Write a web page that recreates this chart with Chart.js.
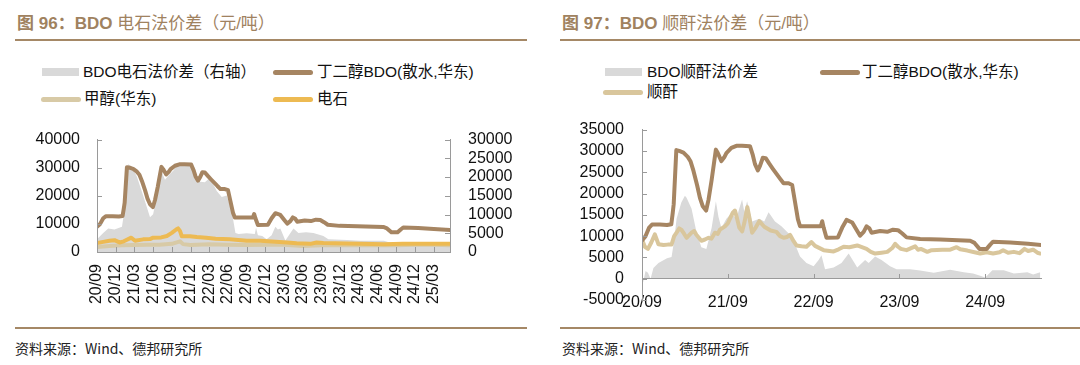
<!DOCTYPE html>
<html>
<head>
<meta charset="utf-8">
<script src="https://cdn.jsdelivr.net/npm/chart.js@4.4.1/dist/chart.umd.min.js"></script>
<style>
  body { margin: 0; background: #fff; }
  #page { position: relative; width: 1080px; height: 365px; overflow: hidden; font-family: "Liberation Sans", "Noto Sans CJK SC", sans-serif; }
  .title { position: absolute; top: 12px; font-size: 17px; line-height: 24px; color: #A0825F; white-space: nowrap; }
  .title b { font-weight: bold; }
  .rule { position: absolute; height: 2px; background: #A58866; }
  .src { position: absolute; top: 338px; font-size: 14px; line-height: 20px; color: #222; font-family: "Noto Sans CJK SC", sans-serif; }
  .lg { position: absolute; font-size: 15.5px; line-height: 20px; color: #111; white-space: nowrap; }
  .sw { position: absolute; }
  canvas { position: absolute; }
</style>
</head>
<body>
<div id="page">
  <div class="title" style="left:17px"><b>图 96：BDO</b> 电石法价差（元/吨）</div>
  <div class="title" style="left:562px"><b>图 97：BDO</b> 顺酐法价差（元/吨）</div>
  <div class="rule" style="left:15px; width:512px; top:39px"></div>
  <div class="rule" style="left:560px; width:520px; top:39px"></div>
  <div class="rule" style="left:15px; width:512px; top:327px"></div>
  <div class="rule" style="left:560px; width:520px; top:327px"></div>
  <div class="src" style="left:15px">资料来源：Wind、德邦研究所</div>
  <div class="src" style="left:562px">资料来源：Wind、德邦研究所</div>
  <div id="legend"></div>
  <canvas id="left" width="540" height="200" style="left:0; top:120px"></canvas>
  <canvas id="right" width="540" height="210" style="left:540px; top:110px"></canvas>
</div>
<script>
// 丁二醇BDO(散水,华东), 元/吨
const bdoDates = ['2020-09-01','2020-09-16','2020-10-01','2020-10-13','2020-11-16','2020-12-16','2021-01-04','2021-01-10','2021-01-14','2021-01-25',
  '2021-02-07','2021-02-25','2021-03-13','2021-03-25','2021-04-07','2021-04-22','2021-05-04','2021-05-16','2021-05-30','2021-06-10',
  '2021-06-23','2021-07-04','2021-07-11','2021-07-19','2021-08-04','2021-08-16','2021-08-25','2021-09-16','2021-10-07','2021-11-01',
  '2021-12-04','2021-12-16','2021-12-25','2022-01-07','2022-01-16','2022-01-28','2022-02-10','2022-02-25','2022-03-10','2022-04-10',
  '2022-04-25','2022-05-16','2022-06-01','2022-06-13','2022-06-25','2022-07-04','2022-10-01','2022-10-07','2022-10-13','2022-10-25',
  '2022-12-13','2023-01-01','2023-01-19','2023-02-13','2023-03-01','2023-03-16','2023-04-01','2023-04-13','2023-04-25','2023-05-04',
  '2023-06-10','2023-07-10','2023-08-04','2023-08-25','2023-09-13','2023-10-01','2023-11-28','2024-02-22','2024-06-28','2024-07-16',
  '2024-08-07','2024-09-07','2024-09-22','2024-10-04','2024-12-16','2025-03-01','2025-05-20'];
const bdoPrice = [9000,10000,12000,12700,12700,12600,12800,15500,17500,30200,
  30000,29600,28600,27500,25300,22000,19000,17000,16000,18500,
  23100,27500,30300,29500,27600,28500,29500,30700,31200,31200,
  31100,29000,26900,25400,26500,28400,28300,27000,25800,23500,
  22400,22400,22000,18000,14000,12300,12300,13500,12000,9600,
  9700,12000,13800,13200,11500,10100,11000,12300,11800,10800,
  11200,11000,11500,11400,10600,9700,9300,9200,8900,8400,
  7000,7000,8000,8700,8500,8200,7800];

// 甲醇(华东)
const methanolDates = ['2020-09-01','2020-11-01','2021-01-01','2021-03-01','2021-05-01','2021-07-01','2021-09-01','2021-10-10','2021-10-25','2021-12-01',
  '2022-03-01','2022-06-01','2022-09-01','2022-12-01','2023-03-01','2023-06-01','2023-09-01','2023-12-01','2024-03-01','2024-06-01',
  '2024-09-01','2024-12-01','2025-03-01','2025-05-20'];
const methanolPrice = [1800,2100,2400,2500,2600,2600,2900,3800,2800,2500,
  2800,2600,2500,2600,2600,2100,2400,2400,2400,2500,
  2400,2600,2600,2400];

// 电石
const carbideDates = ['2020-09-01','2020-10-01','2020-11-01','2020-11-25','2020-12-19','2021-01-10','2021-02-16','2021-03-04','2021-04-13','2021-05-16',
  '2021-06-01','2021-07-10','2021-08-07','2021-09-01','2021-09-22','2021-10-01','2021-10-10','2021-10-19','2021-11-28','2022-01-01',
  '2022-02-16','2022-04-01','2022-06-10','2022-09-01','2022-11-07','2023-03-16','2023-05-01','2023-07-07','2023-08-07','2023-09-10',
  '2024-01-01','2024-03-07','2024-07-01','2024-10-01','2025-01-01','2025-05-20'];
const carbidePrice = [3200,3600,4000,4200,3400,3800,5100,4000,4500,4600,
  5100,5200,5700,6800,8000,8400,7500,5600,5600,5300,
  5100,4700,4500,4000,4000,3400,3100,2900,3400,3200,
  3000,2900,2800,2900,2900,2900];

// BDO电石法价差（右轴）
const carbideSpreadDates = ['2020-09-01','2020-10-01','2020-10-25','2020-11-25','2021-01-01','2021-01-10','2021-01-16','2021-01-25','2021-02-01','2021-02-19',
  '2021-03-13','2021-04-13','2021-05-16','2021-06-01','2021-06-19','2021-07-13','2021-07-28','2021-08-16','2021-09-10','2021-09-28',
  '2021-10-16','2021-11-28','2021-12-22','2022-01-10','2022-02-10','2022-03-04','2022-04-07','2022-05-01','2022-05-25','2022-06-19',
  '2022-07-07','2022-07-22','2022-09-01','2022-10-10','2022-10-16','2022-10-25','2022-11-16','2022-12-07','2023-01-01','2023-01-19',
  '2023-02-01','2023-02-13','2023-03-07','2023-04-16','2023-05-10','2023-06-16','2023-07-22','2023-09-10','2023-10-04','2024-01-04',
  '2024-03-07','2024-07-01','2024-08-19','2024-10-07','2024-12-10','2025-01-28','2025-05-20'];
const carbideSpread = [3400,5100,6300,6000,6750,10000,12600,20000,23400,22800,
  20100,15100,9250,10100,15100,21300,19300,20500,21800,23400,
  23000,23400,22400,18800,18600,19800,16300,14700,15100,10900,
  5100,4800,5000,4800,6500,4500,4300,3400,4500,6750,
  6000,6300,3100,6300,5100,5300,5100,4300,3400,3200,
  3000,3000,2200,2200,2400,2200,2200];

// 顺酐
const maDates = ['2020-09-01','2020-09-13','2020-09-26','2020-10-10','2020-10-25','2020-11-10','2020-12-01','2020-12-19','2021-01-05','2021-01-16',
  '2021-01-26','2021-02-07','2021-02-16','2021-02-28','2021-03-08','2021-03-29','2021-04-10','2021-04-19','2021-05-10','2021-05-25',
  '2021-06-10','2021-06-22','2021-07-07','2021-07-19','2021-07-28','2021-08-19','2021-09-01','2021-09-10','2021-09-22','2021-10-01',
  '2021-10-10','2021-10-19','2021-11-01','2021-11-10','2021-11-23','2021-12-01','2021-12-07','2021-12-13','2021-12-28','2022-01-13',
  '2022-02-04','2022-03-01','2022-03-25','2022-04-10','2022-04-25','2022-05-10','2022-05-22','2022-06-07','2022-06-19','2022-07-10',
  '2022-08-01','2022-08-22','2022-09-07','2022-10-13','2022-11-25','2022-12-16','2023-01-07','2023-02-01','2023-03-04','2023-04-13',
  '2023-05-01','2023-05-19','2023-06-16','2023-07-10','2023-08-01','2023-08-13','2023-08-25','2023-09-07','2023-10-01','2023-11-07',
  '2023-11-19','2023-12-01','2023-12-28','2024-01-16','2024-03-01','2024-04-04','2024-05-01','2024-05-16','2024-06-16','2024-07-16',
  '2024-08-10','2024-09-07','2024-10-04','2024-11-01','2024-11-16','2024-12-07','2025-01-01','2025-01-25','2025-02-16','2025-03-01',
  '2025-03-22','2025-04-10','2025-04-22'];
const maPrice = [9200,7500,7000,8500,10400,8100,7900,8000,8000,10000,
  10800,11800,11500,10500,9600,10800,11200,10300,8900,9200,
  9600,9400,10800,10500,11500,12300,13000,14100,15500,16000,
  14100,12000,11100,13000,16800,14500,12600,10800,12000,13500,
  12200,11300,11000,10000,9600,9800,10300,8800,7800,7600,
  7500,8600,7700,6700,6400,6900,7500,7400,7800,7000,
  6300,5900,6100,6300,7200,8200,7500,7000,6700,7600,
  6800,7000,6300,6700,6800,6800,7400,6900,6600,6200,
  5900,6200,5900,6200,6700,6100,6300,6000,7000,6500,
  6800,6100,5900];

// BDO顺酐法价差
const maSpreadDates = ['2020-09-01','2020-09-07','2020-09-16','2020-09-26','2020-10-07','2020-10-19','2020-11-10','2020-12-16','2021-01-05','2021-01-16',
  '2021-01-26','2021-02-16','2021-03-01','2021-03-08','2021-03-29','2021-04-19','2021-05-10','2021-06-01','2021-06-23','2021-07-11',
  '2021-07-22','2021-08-04','2021-08-25','2021-09-16','2021-10-07','2021-10-19','2021-11-01','2021-11-10','2021-11-22','2021-12-13',
  '2022-01-13','2022-02-04','2022-02-22','2022-03-19','2022-04-16','2022-05-22','2022-06-13','2022-07-04','2022-08-01','2022-09-01',
  '2022-09-22','2022-10-04','2022-10-19','2022-11-25','2022-12-28','2023-01-28','2023-03-04','2023-04-07','2023-04-22','2023-05-19',
  '2023-06-16','2023-07-22','2023-08-19','2023-10-16','2023-11-28','2024-01-25','2024-04-04','2024-06-01','2024-07-10','2024-08-10',
  '2024-09-01','2024-10-01','2024-11-19','2025-01-01','2025-02-28','2025-03-22','2025-04-22'];
const maSpread = [-2000,-500,1800,1400,0,2500,3700,4800,5100,9000,
  14100,17900,19500,19000,16400,11100,7400,7000,11900,18200,
  14500,11900,14100,15300,14100,16500,18600,15700,18200,13400,
  14100,13400,15600,13400,12300,10300,8100,5200,3700,2900,
  4400,5500,2200,2600,3700,5900,2600,4400,3700,5200,
  4400,2900,2200,2200,1900,1400,2100,1500,1200,700,
  300,2000,2000,1200,1500,1000,1500];

const xTicksLeft = ['20/09','20/12','21/03','21/06','21/09','21/12','22/03','22/06','22/09','22/12',
  '23/03','23/06','23/09','23/12','24/03','24/06','24/09','24/12','25/03'];
const xTicksRight = ['20/09','21/09','22/09','23/09','24/09'];

const C = { gray: '#D9D9D9', bdo: '#A68562', methanol: '#D8CAA6', carbide: '#EDBA52', ma: '#D9C69C', axis: '#9A9A9A' };

function toMonth(d) {
  const p = d.split('-').map(Number);
  return (p[0] - 2020) * 12 + (p[1] - 9) + (p[2] - 1) / 30;
}
function pts(dates, vals) { return dates.map((d, i) => ({ x: toMonth(d), y: vals[i] })); }

Chart.defaults.font.family = '"Liberation Sans", Arial, sans-serif';
Chart.defaults.font.size = 16;
Chart.defaults.color = '#111';

// tick marks drawn inward, as in the source chart
const innerTicks = {
  id: 'innerTicks',
  afterDraw(chart) {
    const ctx = chart.ctx, a = chart.chartArea;
    ctx.save();
    ctx.strokeStyle = C.axis;
    ctx.lineWidth = 1;
    Object.values(chart.scales).forEach(s => {
      const pos = s.options.position;
      s.ticks.forEach(t => {
        const p = Math.round(s.getPixelForValue(t.value)) + 0.5;
        ctx.beginPath();
        if (s.isHorizontal()) {
          const y0 = typeof pos === 'object' ? Math.round(chart.scales.y.getPixelForValue(pos.y)) : a.bottom;
          ctx.moveTo(p, y0); ctx.lineTo(p, y0 - 5);
        } else if (pos === 'left') {
          ctx.moveTo(a.left, p); ctx.lineTo(a.left + 5, p);
        } else {
          ctx.moveTo(a.right, p); ctx.lineTo(a.right - 5, p);
        }
        ctx.stroke();
      });
    });
    ctx.restore();
  }
};

function line(label, data, color, order, yAxisID) {
  return { type: 'line', label, data, borderColor: color, backgroundColor: color, borderWidth: 4,
    pointRadius: 0, tension: 0, fill: false, order, yAxisID: yAxisID || 'y', borderJoinStyle: 'round', borderCapStyle: 'round' };
}
function area(label, data, order, yAxisID) {
  return { type: 'line', label, data, borderWidth: 0, borderColor: C.gray, backgroundColor: C.gray,
    pointRadius: 0, tension: 0, fill: 'origin', order, yAxisID: yAxisID || 'y' };
}
const border = { display: true, color: C.axis, width: 1, z: 1 };
const plain = v => String(v);

const leftSets = [
  area('BDO电石法价差（右轴）', pts(carbideSpreadDates, carbideSpread), 3, 'y1'),
  line('丁二醇BDO(散水,华东)', pts(bdoDates, bdoPrice), C.bdo, 0),
  line('甲醇(华东)', pts(methanolDates, methanolPrice), C.methanol, 2),
  line('电石', pts(carbideDates, carbidePrice), C.carbide, 1)
];
const rightSets = [
  area('BDO顺酐法价差', pts(maSpreadDates, maSpread), 3),
  line('丁二醇BDO(散水,华东)', pts(bdoDates, bdoPrice), C.bdo, 0),
  line('顺酐', pts(maDates, maPrice), C.ma, 1)
];

new Chart(document.getElementById('left'), {
  type: 'line',
  data: { datasets: leftSets },
  plugins: [innerTicks],
  options: {
    responsive: false, animation: false, devicePixelRatio: 1,
    layout: { autoPadding: false, padding: { top: 12, left: 0, right: 0, bottom: 0 } },
    plugins: { legend: { display: false }, tooltip: { enabled: false } },
    scales: {
      x: { type: 'linear', min: 0, max: 56.6, grid: { display: false }, border,
        afterFit: s => { s.height = 68; },
        ticks: { stepSize: 3, includeBounds: false, autoSkip: false, maxRotation: 90, minRotation: 90, padding: 4,
          callback: (v, i) => xTicksLeft[i] } },
      y: { position: 'left', min: 0, max: 40000, grid: { display: false }, border,
        afterFit: s => { s.width = 97; },
        ticks: { stepSize: 10000, autoSkip: false, padding: 9, callback: plain } },
      y1: { position: 'right', min: 0, max: 30000, grid: { display: false }, border,
        afterFit: s => { s.width = 90; },
        ticks: { stepSize: 5000, autoSkip: false, padding: 10, callback: plain } }
    }
  }
});

new Chart(document.getElementById('right'), {
  type: 'line',
  data: { datasets: rightSets },
  plugins: [innerTicks],
  options: {
    responsive: false, animation: false, devicePixelRatio: 1,
    layout: { autoPadding: false, padding: { top: 12, left: 0, right: 39, bottom: 20 } },
    plugins: { legend: { display: false }, tooltip: { enabled: false } },
    scales: {
      x: { type: 'linear', position: { y: 0 }, min: 0, max: 55.8, grid: { display: false }, border,
        ticks: { stepSize: 12, includeBounds: false, autoSkip: false, maxRotation: 0, padding: 6,
          callback: (v, i) => xTicksRight[i] } },
      y: { position: 'left', min: -5000, max: 35000, grid: { display: false }, border,
        afterFit: s => { s.width = 102; },
        ticks: { stepSize: 5000, autoSkip: false, padding: 10, callback: plain } }
    }
  }
});

// HTML legends, built from the datasets
const legendSpots = [
  [leftSets[0], 42, 72, 83], [leftSets[1], 273, 72, 317],
  [leftSets[2], 41, 99, 84], [leftSets[3], 273, 99, 317],
  [rightSets[0], 605, 72, 647], [rightSets[1], 820, 72, 862],
  [rightSets[2], 603, 92, 647]
];
const lg = document.getElementById('legend');
legendSpots.forEach(([ds, sx, cy, tx]) => {
  const sw = document.createElement('div');
  sw.className = 'sw';
  if (ds.fill) {
    Object.assign(sw.style, { left: sx + 'px', top: (cy - 4) + 'px', width: '37px', height: '8px', background: ds.backgroundColor });
  } else {
    Object.assign(sw.style, { left: sx + 'px', top: (cy - 2.5) + 'px', width: '40px', height: '5px', background: ds.borderColor, borderRadius: '3px' });
  }
  const t = document.createElement('div');
  t.className = 'lg';
  t.textContent = ds.label;
  Object.assign(t.style, { left: tx + 'px', top: (cy - 10) + 'px' });
  lg.appendChild(sw);
  lg.appendChild(t);
});
</script>
</body>
</html>
